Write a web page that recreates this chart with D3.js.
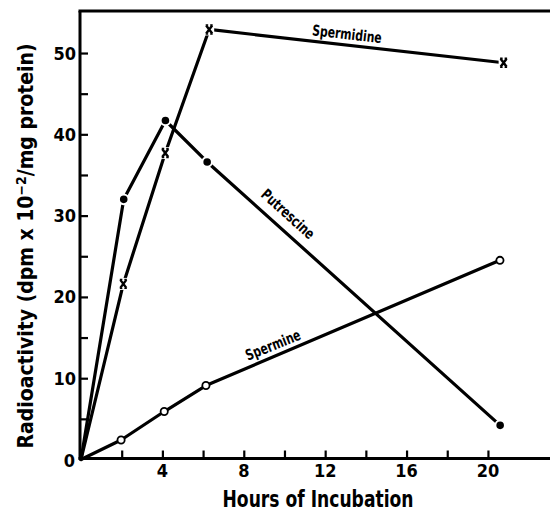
<!DOCTYPE html>
<html>
<head>
<meta charset="utf-8">
<script src="https://cdn.jsdelivr.net/npm/d3@7"></script>
<style>
  html, body { margin: 0; padding: 0; background: #fff; }
  svg { display: block; }
  text { font-family: "Liberation Sans Narrow", "DejaVu Sans Condensed", "Liberation Sans", sans-serif; font-weight: bold; fill: #000; }
</style>
</head>
<body>
<svg id="chart" width="550" height="514"></svg>
<script>
// ---- data ----
const putrescineHours  = [0, 2.1, 4.15, 6.2, 20.6];
const putrescineValues = [0, 32.0, 41.7, 36.6, 4.2];

const spermidineHours  = [0, 2.08, 4.14, 6.3, 20.77];
const spermidineValues = [0, 21.6, 37.7, 52.9, 48.8];

const spermineHours  = [0, 1.97, 4.09, 6.14, 20.59];
const spermineValues = [0, 2.4, 5.9, 9.1, 24.5];

const xTickLabels = [4, 8, 12, 16, 20];
const xMinorTicks = [2, 6, 10, 14, 18];
const yTickLabels = [0, 10, 20, 30, 40, 50];
const yMinorTicks = [5, 15, 25, 35, 45];

const xTitle = "Hours of Incubation";
const seriesNames = ["Putrescine", "Spermidine", "Spermine"];

// ---- layout ----
const svg = d3.select("#chart");
const x = d3.scaleLinear().domain([0, 23.05]).range([81, 550]);
const y = d3.scaleLinear().domain([0, 55.17]).range([459.5, 11]);

const pts = (hs, vs) => hs.map((h, i) => [h, vs[i]]);
const putrescine = pts(putrescineHours, putrescineValues);
const spermidine = pts(spermidineHours, spermidineValues);
const spermine = pts(spermineHours, spermineValues);

// axes frame
const g = svg.append("g");
g.append("line").attr("x1", x(0) - 1).attr("x2", x(0) - 1).attr("y1", y.range()[1]).attr("y2", y(0))
  .attr("stroke", "#000").attr("stroke-width", 3);
g.append("line").attr("x1", x(0) - 2.5).attr("x2", 550).attr("y1", y(0) - 1).attr("y2", y(0) - 1)
  .attr("stroke", "#000").attr("stroke-width", 3);
g.append("line").attr("x1", x(0) - 2.5).attr("x2", 550).attr("y1", y.range()[1]).attr("y2", y.range()[1])
  .attr("stroke", "#000").attr("stroke-width", 3);

// x ticks (inward)
const xAxis = d3.axisTop(x).tickValues(xTickLabels.concat(xMinorTicks)).tickSize(8).tickFormat("");
const xa = svg.append("g").attr("transform", `translate(0,${y(0) - 1})`).call(xAxis);
xa.select(".domain").remove();
xa.selectAll("line").attr("stroke", "#000").attr("stroke-width", 2.2);

// y ticks (inward)
const yAxis = d3.axisRight(y).tickValues(yTickLabels.slice(1).concat(yMinorTicks)).tickSize(8).tickFormat("");
const ya = svg.append("g").attr("transform", `translate(${x(0) - 1},0)`).call(yAxis);
ya.select(".domain").remove();
ya.selectAll("line").attr("stroke", "#000").attr("stroke-width", 2.2);

// tick labels
svg.append("g").selectAll("text").data(xTickLabels).join("text")
  .attr("x", d => x(d)).attr("y", 477).attr("text-anchor", "middle")
  .attr("font-size", 18).text(d => d);
svg.append("g").selectAll("text").data(yTickLabels).join("text")
  .attr("x", d => d === 0 ? 75 : 76).attr("y", d => y(d) + (d === 0 ? 7 : 6.5)).attr("text-anchor", "end")
  .attr("font-size", 18).text(d => d);

// axis titles
svg.append("text").attr("x", 318).attr("y", 507).attr("text-anchor", "middle")
  .attr("font-size", 23).attr("textLength", 191).attr("lengthAdjust", "spacingAndGlyphs").text(xTitle);

const yt = svg.append("text").attr("transform", "translate(33,246) rotate(-90)")
  .attr("text-anchor", "middle").attr("font-size", 21)
  .attr("textLength", 405).attr("lengthAdjust", "spacingAndGlyphs");
yt.append("tspan").text("Radioactivity (dpm x 10");
yt.append("tspan").attr("dy", -7).attr("font-size", 14).text("\u22122");
yt.append("tspan").attr("dy", 7).text("/mg protein)");

// lines
const line = d3.line().x(d => x(d[0])).y(d => y(d[1]));
[putrescine, spermidine, spermine].forEach(data => {
  svg.append("path").datum(data).attr("d", line)
    .attr("fill", "none").attr("stroke", "#000").attr("stroke-width", 3.2)
    .attr("stroke-linejoin", "round").attr("stroke-linecap", "round");
});

// markers
svg.append("g").selectAll("circle").data(putrescine.slice(1)).join("circle")
  .attr("cx", d => x(d[0])).attr("cy", d => y(d[1])).attr("r", 4.8)
  .attr("fill", "#000").attr("stroke", "#fff").attr("stroke-width", 2);
svg.append("g").selectAll("circle").data(spermine.slice(1)).join("circle")
  .attr("cx", d => x(d[0])).attr("cy", d => y(d[1])).attr("r", 3.6)
  .attr("fill", "#fff").attr("stroke", "#000").attr("stroke-width", 1.8);
const xm = svg.append("g").selectAll("g").data(spermidine.slice(1)).join("g")
  .attr("transform", d => `translate(${x(d[0])},${y(d[1])})`);
xm.append("rect").attr("x", -5).attr("y", -6).attr("width", 10).attr("height", 12).attr("fill", "#fff");
xm.append("path").attr("d", "M-3,-4L3,4M3,-4L-3,4").attr("stroke", "#000").attr("stroke-width", 2.4);
xm.append("path").attr("d", "M-3.5,-4.5H-1M1,-4.5H3.5M-3.5,4.5H-1M1,4.5H3.5").attr("stroke", "#000").attr("stroke-width", 1.4);

// series labels
const labels = [
  { name: seriesNames[0], cx: 288, cy: 214, angle: 42, len: 66 },
  { name: seriesNames[1], cx: 347, cy: 34, angle: 6.5, len: 70 },
  { name: seriesNames[2], cx: 273, cy: 345, angle: -22, len: 58 }
];
svg.append("g").selectAll("text").data(labels).join("text")
  .attr("transform", d => `translate(${d.cx},${d.cy}) rotate(${d.angle})`)
  .attr("text-anchor", "middle").attr("dy", "0.35em").attr("font-size", 15)
  .attr("textLength", d => d.len).attr("lengthAdjust", "spacingAndGlyphs")
  .text(d => d.name);
</script>
</body>
</html>
